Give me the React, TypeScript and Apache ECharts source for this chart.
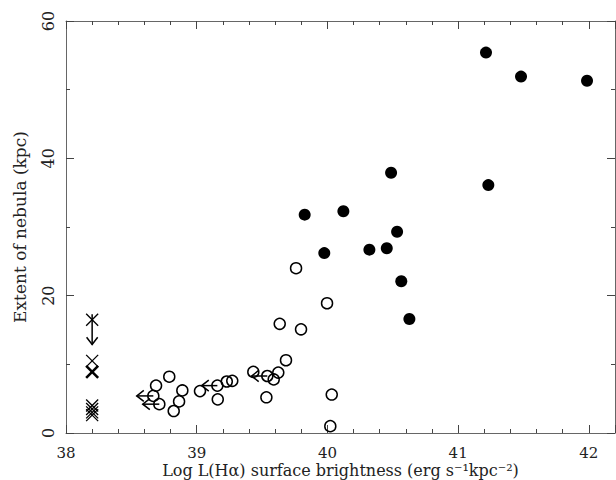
import React, { useEffect, useRef } from 'react';
import * as echarts from 'echarts';

// Axis ticks
const xMajorTicks = [38, 39, 40, 41, 42];
const yMajorTicks = [0, 20, 40, 60];

// Filled circles (detected, large)
const filledX = [41.213, 41.481, 41.986, 41.231, 40.487, 39.826, 40.122, 40.533, 39.976, 40.321, 40.454, 40.565, 40.627];
const filledY = [55.4, 51.9, 51.3, 36.1, 37.9, 31.8, 32.3, 29.3, 26.2, 26.7, 26.9, 22.1, 16.6];

// Open circles
const openX = [39.76, 39.997, 39.798, 39.635, 39.683, 39.433, 39.54, 39.624, 39.589, 39.533, 40.033, 40.022,
  38.689, 38.668, 38.714, 38.79, 38.89, 38.865, 38.824, 39.025, 39.158, 39.23, 39.272, 39.161];
const openY = [24.0, 18.9, 15.1, 15.9, 10.6, 8.9, 8.3, 8.8, 7.8, 5.2, 5.6, 1.0,
  6.9, 5.4, 4.2, 8.2, 6.2, 4.6, 3.2, 6.1, 6.9, 7.5, 7.6, 4.9];

// Upper limits in brightness (arrows pointing left)
const leftArrowFromX = [38.668, 38.714, 39.158, 39.54];
const leftArrowToX = [38.541, 38.587, 39.038, 39.42];
const leftArrowY = [5.4, 4.2, 6.9, 8.3];

// Non-detections plotted at x = 38.2
const crossX = 38.2;
const crossThinY = [16.5, 10.5, 4.0, 3.5, 3.0, 2.6];
const crossBoldY = [8.9];

// Upper limit in extent (arrow pointing down)
const downArrowX = [38.2];
const downArrowFromY = [17.3];
const downArrowToY = [12.9];

const FONT = 'DejaVu Serif';
const TEXT = '#222';

export default function App() {
  const ref = useRef<HTMLDivElement>(null);

  useEffect(() => {
    const chart = echarts.init(ref.current!, null, { renderer: 'svg' });

    const arrowData: number[][] = [];
    leftArrowY.forEach((y, i) => arrowData.push([leftArrowFromX[i], y, leftArrowToX[i], y]));
    downArrowX.forEach((x, i) => arrowData.push([x, downArrowFromY[i], x, downArrowToY[i]]));

    const arrowRender = (params: any, api: any) => {
      const p1 = api.coord([api.value(0), api.value(1)]);
      const p2 = api.coord([api.value(2), api.value(3)]);
      const dx = p2[0] - p1[0];
      const dy = p2[1] - p1[1];
      const len = Math.sqrt(dx * dx + dy * dy) || 1;
      const ux = dx / len;
      const uy = dy / len;
      const L = 9;
      const a = (38 * Math.PI) / 180;
      const rot = (ang: number) => [ux * Math.cos(ang) - uy * Math.sin(ang), ux * Math.sin(ang) + uy * Math.cos(ang)];
      const r1 = rot(a);
      const r2 = rot(-a);
      return {
        type: 'group',
        children: [
          { type: 'line', shape: { x1: p1[0], y1: p1[1], x2: p2[0], y2: p2[1] }, style: { stroke: '#000', lineWidth: 1.5 } },
          {
            type: 'polyline',
            shape: { points: [[p2[0] - L * r1[0], p2[1] - L * r1[1]], [p2[0], p2[1]], [p2[0] - L * r2[0], p2[1] - L * r2[1]]] },
            style: { stroke: '#000', lineWidth: 1.5, fill: 'none' },
          },
        ],
      };
    };

    const crossRender = (w: number) => (params: any, api: any) => {
      const p = api.coord([api.value(0), api.value(1)]);
      const s = 6;
      return {
        type: 'group',
        children: [
          { type: 'line', shape: { x1: p[0] - s, y1: p[1] - s, x2: p[0] + s, y2: p[1] + s }, style: { stroke: '#000', lineWidth: w } },
          { type: 'line', shape: { x1: p[0] - s, y1: p[1] + s, x2: p[0] + s, y2: p[1] - s }, style: { stroke: '#000', lineWidth: w } },
        ],
      };
    };

    const xMin = xMajorTicks[0];
    const xMax = 42.2;
    const yMin = yMajorTicks[0];
    const yMax = yMajorTicks[yMajorTicks.length - 1];

    const axisLineStyle = { show: true, lineStyle: { color: '#666', width: 1 } };
    const majorTick = { show: true, inside: true, length: 8, lineStyle: { color: '#444', width: 1 } };
    const minorTickAxis = { show: true, inside: true, length: 4, lineStyle: { color: '#444', width: 1 } };

    const option: any = {
      animation: false,
      backgroundColor: '#fff',
      grid: { left: 66, right: 1, top: 21, bottom: 47, containLabel: false, outerBoundsMode: 'none' },
      xAxis: [
        {
          type: 'value', position: 'bottom', min: xMin, max: xMax, interval: 1,
          axisLine: axisLineStyle, axisTick: majorTick, splitLine: { show: false },
          axisLabel: {
            fontFamily: FONT, fontSize: 15, lineHeight: 17, color: TEXT, margin: 11,
            formatter: (v: number) => (xMajorTicks.includes(v) ? String(v) : ''),
          },
          name: 'Log L(Hα) surface brightness (erg s⁻¹kpc⁻²)',
          nameLocation: 'middle', nameGap: 28, nameMoveOverlap: false,
          nameTextStyle: { fontFamily: FONT, fontSize: 16, lineHeight: 18, color: TEXT },
        },
        {
          type: 'value', position: 'bottom', min: xMin, max: xMax, interval: 0.2,
          axisLine: { show: false }, axisTick: minorTickAxis, axisLabel: { show: false }, splitLine: { show: false },
        },
        {
          type: 'value', position: 'top', min: xMin, max: xMax, interval: 1,
          axisLine: axisLineStyle, axisTick: majorTick, axisLabel: { show: false }, splitLine: { show: false },
        },
        {
          type: 'value', position: 'top', min: xMin, max: xMax, interval: 0.2,
          axisLine: { show: false }, axisTick: minorTickAxis, axisLabel: { show: false }, splitLine: { show: false },
        },
      ],
      yAxis: [
        {
          type: 'value', position: 'left', min: yMin, max: yMax, interval: 20,
          axisLine: axisLineStyle, axisTick: majorTick, splitLine: { show: false },
          minorTick: { show: true, splitNumber: 2, length: 4, lineStyle: { color: '#444', width: 1 } },
          axisLabel: { fontFamily: FONT, fontSize: 16, color: TEXT, rotate: 90, margin: 10 },
          name: 'Extent of nebula (kpc)', nameLocation: 'middle', nameGap: 38, nameMoveOverlap: false,
          nameTextStyle: { fontFamily: FONT, fontSize: 17, color: TEXT },
        },
        {
          type: 'value', position: 'right', min: yMin, max: yMax, interval: 20,
          axisLine: axisLineStyle, axisTick: majorTick, splitLine: { show: false },
          minorTick: { show: true, splitNumber: 2, length: 4, lineStyle: { color: '#444', width: 1 } },
          axisLabel: { show: false },
        },
      ],
      series: [
        {
          type: 'scatter', name: 'open', xAxisIndex: 0, yAxisIndex: 0,
          data: openX.map((x, i) => [x, openY[i]]),
          symbol: 'circle', symbolSize: 11,
          itemStyle: { color: 'rgba(0,0,0,0)', borderColor: '#000', borderWidth: 1.5, opacity: 1 },
          emphasis: { disabled: true },
        },
        {
          type: 'scatter', name: 'filled', xAxisIndex: 0, yAxisIndex: 0,
          data: filledX.map((x, i) => [x, filledY[i]]),
          symbol: 'circle', symbolSize: 12,
          itemStyle: { color: '#000', opacity: 1 },
          emphasis: { disabled: true },
        },
        {
          type: 'custom', name: 'arrows', xAxisIndex: 0, yAxisIndex: 0,
          data: arrowData, renderItem: arrowRender, silent: true,
        },
        {
          type: 'custom', name: 'crossThin', xAxisIndex: 0, yAxisIndex: 0,
          data: crossThinY.map((y) => [crossX, y]), renderItem: crossRender(1.3), silent: true,
        },
        {
          type: 'custom', name: 'crossBold', xAxisIndex: 0, yAxisIndex: 0,
          data: crossBoldY.map((y) => [crossX, y]), renderItem: crossRender(2.6), silent: true,
        },
      ],
    };

    chart.setOption(option);
    return () => chart.dispose();
  }, []);

  return <div ref={ref} style={{ position: 'absolute', left: 0, top: 0, width: 616, height: 480 }} />;
}
